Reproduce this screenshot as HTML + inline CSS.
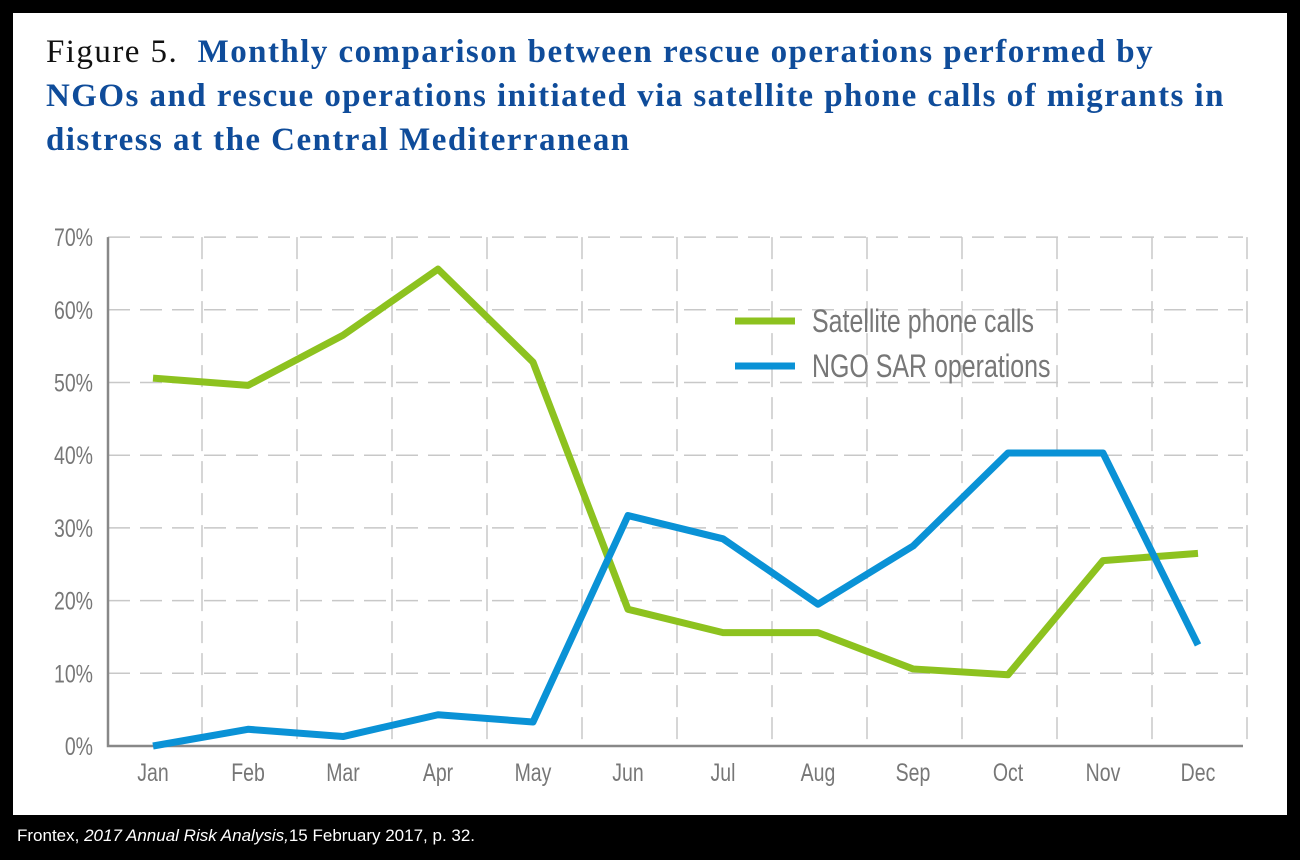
<!DOCTYPE html>
<html><head><meta charset="utf-8"><style>
html,body{margin:0;padding:0;background:#000;width:1300px;height:860px;overflow:hidden}
#panel{position:absolute;left:13px;top:13px;width:1274px;height:802px;background:#fff}
#title{position:absolute;left:46px;top:30px;white-space:nowrap;font-family:"Liberation Serif",serif;font-size:33px;line-height:44px;color:#0f4c9a;font-weight:bold;letter-spacing:1.45px}
#title span{color:#111;font-weight:normal}
#cap{position:absolute;left:17px;top:826px;font-family:"Liberation Sans",sans-serif;font-size:17px;color:#fff}
svg{position:absolute;left:0;top:0}
</style></head><body>
<div id="panel"></div>
<div id="title"><span>Figure 5.</span>&nbsp; Monthly comparison between rescue operations performed by<br>NGOs and rescue operations initiated via satellite phone calls of migrants in<br>distress at the Central Mediterranean</div>
<div id="cap">Frontex, <i>2017 Annual Risk Analysis,</i>15 February 2017, p. 32.</div>
<svg id="chart" width="1300" height="860"></svg>
<script>
const months=["Jan","Feb","Mar","Apr","May","Jun","Jul","Aug","Sep","Oct","Nov","Dec"];
const satellite=[50.6,49.6,56.5,65.6,52.8,18.8,15.6,15.6,10.6,9.8,25.5,26.5];
const ngo=[0,2.3,1.3,4.3,3.3,31.7,28.5,19.5,27.5,40.3,40.3,13.9];
const yTicks=[0,10,20,30,40,50,60,70];
const NS="http://www.w3.org/2000/svg";
const svg=document.getElementById('chart');
const x=i=>153+95*i;
const y=v=>746-v*7.27;
function mk(t,a){const e=document.createElementNS(NS,t);for(const k in a)e.setAttribute(k,a[k]);svg.appendChild(e);return e;}
yTicks.forEach(v=>{
  if(v>0){const g=mk('line',{x1:108,x2:1243,y1:y(v),y2:y(v),stroke:'#c8c8c8','stroke-width':1.5,'stroke-dasharray':'22 10'});
  
  }
  const t=mk('text',{x:93,y:y(v)+9,'text-anchor':'end','font-family':'Liberation Sans, sans-serif','font-size':25,fill:'#777',transform:`translate(93 0) scale(0.78 1) translate(-93 0)`});
  t.textContent=v+'%';
  
  
});
months.forEach((m,i)=>{
  const gx=x(i)+49;
  const g=mk('line',{x1:gx,x2:gx,y1:y(70),y2:746,stroke:'#c8c8c8','stroke-width':1.5,'stroke-dasharray':'22 10'});
  
  
  const t=mk('text',{x:x(i),y:781,'text-anchor':'middle','font-family':'Liberation Sans, sans-serif','font-size':25,fill:'#777',transform:`translate(${x(i)} 0) scale(0.78 1) translate(${-x(i)} 0)`});
  t.textContent=m;
  
  
});
const ax=mk('path',{d:`M108 ${y(70)} V746 H1243`,fill:'none',stroke:'#888','stroke-width':2.5});


function series(vals,col,name){
  const p=mk('polyline',{points:vals.map((v,i)=>x(i)+','+y(v)).join(' '),fill:'none',stroke:col,'stroke-width':7,'stroke-linejoin':'round'});
  
  
}
series(satellite,'#8dc21f','satellite-line');
series(ngo,'#0a92d6','ngo-line');
[['Satellite phone calls','#8dc21f',321],['NGO SAR operations','#0a92d6',366]].forEach(([lab,col,ly])=>{
  const l=mk('line',{x1:735,x2:795,y1:ly,y2:ly,stroke:col,'stroke-width':7});
  
  
  const t=mk('text',{x:812,y:ly+11,'font-family':'Liberation Sans, sans-serif','font-size':32,fill:'#777',transform:'translate(812 0) scale(0.78 1) translate(-812 0)'});
  t.textContent=lab;
  
  
});
</script>
</body></html>
